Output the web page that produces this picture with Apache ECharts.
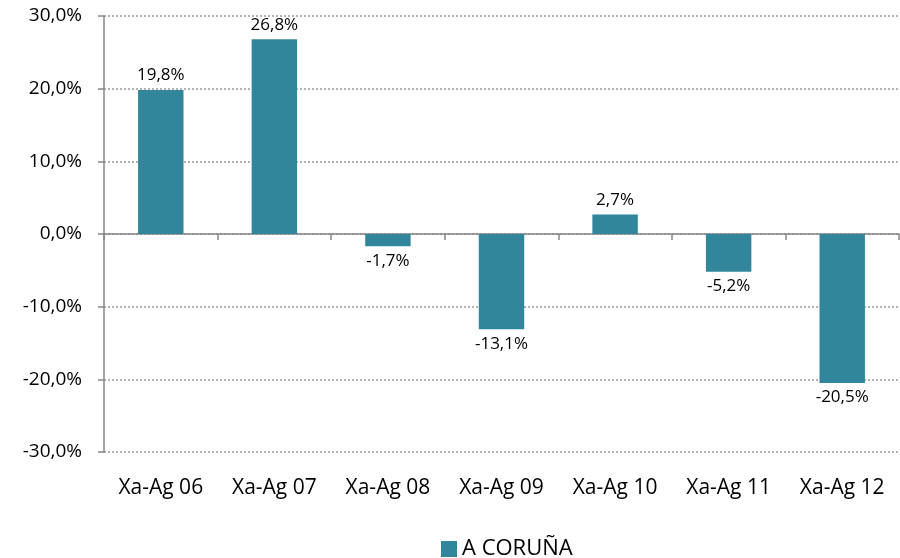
<!DOCTYPE html>
<html>
<head>
<meta charset="utf-8">
<script src="https://cdn.jsdelivr.net/npm/echarts@6/dist/echarts.min.js"></script>
<style>
  html, body { margin: 0; padding: 0; background: #fff; }
  #chart { width: 900px; height: 558px; }
</style>
</head>
<body>
<div id="chart"></div>
<script>
  const categories = ["Xa-Ag 06", "Xa-Ag 07", "Xa-Ag 08", "Xa-Ag 09", "Xa-Ag 10", "Xa-Ag 11", "Xa-Ag 12"];
  const coruna = [19.8, 26.8, -1.7, -13.1, 2.7, -5.2, -20.5];
  const seriesName = "A CORUÑA";

  const fmt = (v) => v.toFixed(1).replace(".", ",") + "%";
  const font = "'Open Sans', 'Liberation Sans', sans-serif";

  const chart = echarts.init(document.getElementById("chart"));
  chart.setOption({
    animation: false,
    textStyle: { fontFamily: font, color: "#000" },
    grid: { left: 104, right: 1, top: 16, bottom: 106 },
    legend: {
      top: 533,
      left: 436,
      icon: "rect",
      itemWidth: 16,
      itemHeight: 16,
      itemGap: 6,
      textStyle: { fontSize: 22, fontFamily: font, color: "#000" },
      data: [seriesName]
    },
    xAxis: [
      {
        type: "category",
        data: categories,
        position: "bottom",
        axisLine: { onZero: true, lineStyle: { color: "#868686", width: 1.5 } },
        axisTick: { show: true, length: 6, lineStyle: { color: "#868686", width: 1.5 } },
        axisLabel: { show: false }
      },
      {
        type: "category",
        data: categories,
        position: "bottom",
        axisLine: { show: false, onZero: false },
        axisTick: { show: false },
        axisLabel: { margin: 26, fontSize: 21, color: "#000", fontFamily: font }
      }
    ],
    yAxis: {
      type: "value",
      min: -30,
      max: 30,
      interval: 10,
      axisLine: { show: true, lineStyle: { color: "#868686", width: 1.5 } },
      axisTick: { show: true, length: 6, lineStyle: { color: "#868686", width: 1.5 } },
      axisLabel: { margin: 22, fontSize: 19, color: "#000", fontFamily: font, formatter: fmt },
      splitLine: { show: true, lineStyle: { color: "#9a9a9a", type: [2, 2], width: 1.5 } }
    },
    series: [
      {
        name: seriesName,
        type: "bar",
        xAxisIndex: 0,
        barWidth: "40%",
        itemStyle: { color: "#31869c" },
        label: {
          show: true,
          fontSize: 17,
          color: "#000",
          distance: 6,
          fontFamily: font,
          formatter: (p) => fmt(p.value)
        },
        data: coruna.map((v) => ({ value: v, label: { position: v < 0 ? "bottom" : "top" } }))
      }
    ]
  });
</script>
</body>
</html>
